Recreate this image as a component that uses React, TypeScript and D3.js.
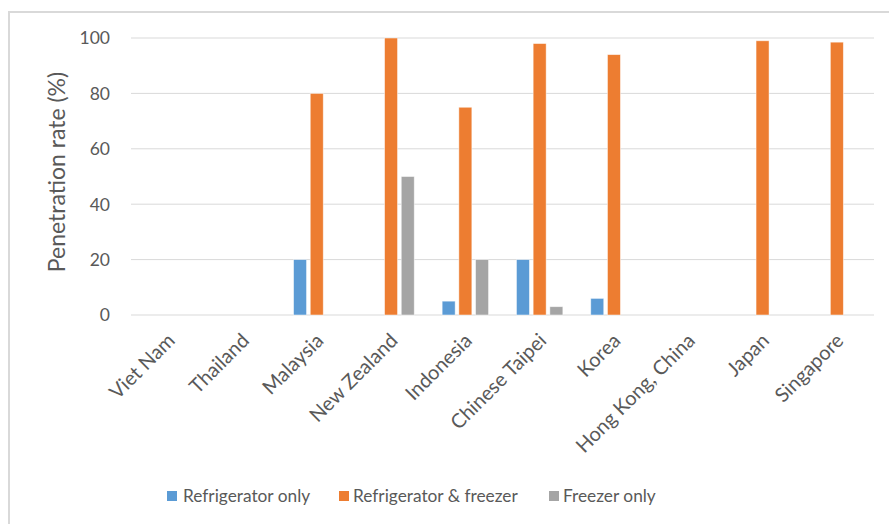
import React from "react";
import * as d3 from "d3";

// Economies and penetration rates (%) by appliance type
const economies = [
  "Viet Nam",
  "Thailand",
  "Malaysia",
  "New Zealand",
  "Indonesia",
  "Chinese Taipei",
  "Korea",
  "Hong Kong, China",
  "Japan",
  "Singapore",
];
const refrigeratorOnly = [0, 0, 20, 0, 5, 20, 6, 0, 0, 0];
const refrigeratorFreezer = [0, 0, 80, 100, 75, 98, 94, 0, 99, 98.5];
const freezerOnly = [0, 0, 0, 50, 20, 3, 0, 0, 0, 0];
const seriesNames = ["Refrigerator only", "Refrigerator & freezer", "Freezer only"];
const seriesColors = ["#5b9bd5", "#ed7d31", "#a5a5a5"];
const yTicks = [0, 20, 40, 60, 80, 100];

const W = 889;
const H = 524;
const FONT = "Lato, 'Open Sans', sans-serif";
const TEXT = "#595959";
const GRID = "#d9d9d9";

export default function App() {
  const plot = { left: 131, right: 874, top: 38, bottom: 315 };
  const x = d3.scaleBand<string>().domain(economies).range([plot.left, plot.right]).padding(0);
  const y = d3.scaleLinear().domain([0, 100]).range([plot.bottom, plot.top]);
  const series = [refrigeratorOnly, refrigeratorFreezer, freezerOnly];
  const barW = 13;
  const pitch = 16.7;

  const legendItems = [
    { sx: 167, tx: 183 },
    { sx: 339, tx: 353 },
    { sx: 549, tx: 563 },
  ];

  return (
    <div style={{ position: "fixed", left: 0, top: 0, width: W, height: H, background: "#fff" }}>
      <svg width={W} height={H} style={{ display: "block" }}>
        <rect x={0} y={0} width={W} height={H} fill="#fff" />
        {/* chart frame */}
        <rect x={9} y={12} width={W + 20} height={H + 20} fill="none" stroke={GRID} strokeWidth={2} />

        {/* gridlines */}
        {yTicks.map((t) => (
          <line key={t} x1={plot.left} x2={plot.right} y1={y(t)} y2={y(t)} stroke={GRID} strokeWidth={1} />
        ))}

        {/* y tick labels */}
        {yTicks.map((t) => (
          <text
            key={"l" + t}
            x={110}
            y={y(t)}
            dy="0.36em"
            textAnchor="end"
            fontFamily={FONT}
            fontSize={17.5}
            fill={TEXT}
          >
            {t}
          </text>
        ))}

        {/* y axis title */}
        <text
          transform={`translate(57,${172}) rotate(-90)`}
          textAnchor="middle"
          dy="0.35em"
          fontFamily={FONT}
          fontSize={23}
          fill={TEXT}
        >
          Penetration rate (%)
        </text>

        {/* bars */}
        {series.map((vals, si) =>
          economies.map((c, ci) => {
            const v = vals[ci];
            if (!v) return null;
            const cx = (x(c) as number) + x.bandwidth() / 2 + (si - 1) * pitch;
            return (
              <rect
                key={si + "-" + ci}
                x={cx - barW / 2}
                y={y(v)}
                width={barW}
                height={y(0) - y(v)}
                fill={seriesColors[si]}
                stroke="#ffffff"
                strokeOpacity={0.6}
                strokeWidth={0.8}
              />
            );
          })
        )}

        {/* category labels */}
        {economies.map((c) => {
          const cx = (x(c) as number) + x.bandwidth() / 2 + 3;
          return (
            <text
              key={c}
              transform={`translate(${cx},${plot.bottom + 22}) rotate(-45)`}
              textAnchor="end"
              dy="0.35em"
              fontFamily={FONT}
              fontSize={20}
              fill={TEXT}
            >
              {c}
            </text>
          );
        })}

        {/* legend */}
        {seriesNames.map((n, i) => (
          <g key={n}>
            <rect x={legendItems[i].sx} y={491} width={10} height={10} fill={seriesColors[i]} />
            <text
              x={legendItems[i].tx}
              y={496}
              dy="0.36em"
              fontFamily={FONT}
              fontSize={17.3}
              fill={TEXT}
            >
              {n}
            </text>
          </g>
        ))}
      </svg>
    </div>
  );
}
